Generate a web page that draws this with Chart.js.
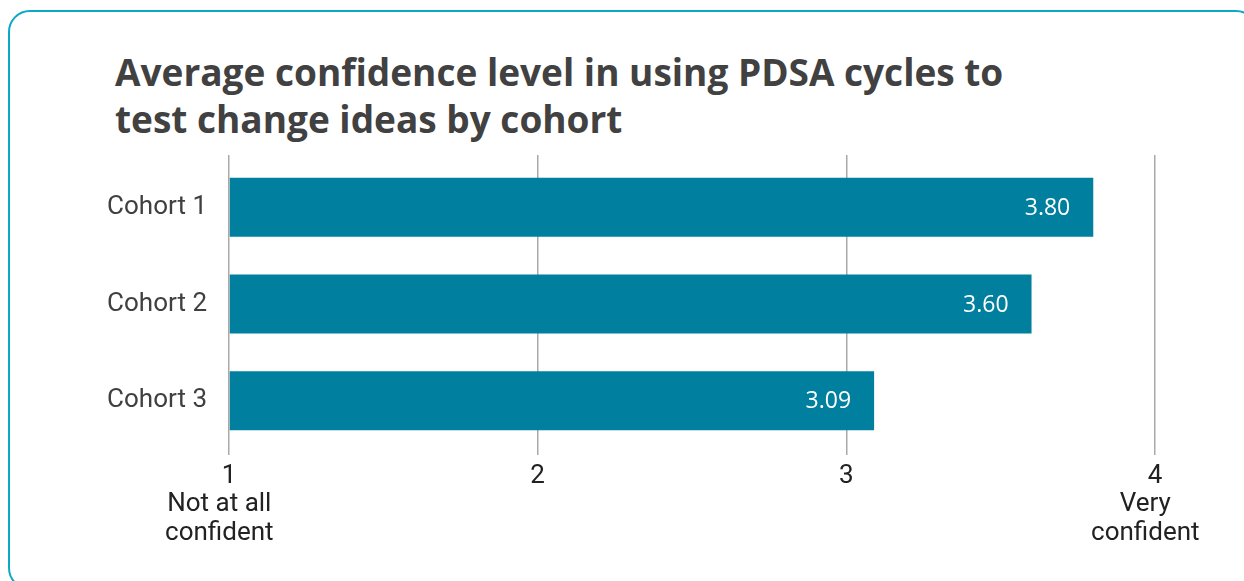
<!DOCTYPE html>
<html>
<head>
<meta charset="utf-8">
<script src="https://cdn.jsdelivr.net/npm/chart.js@4/dist/chart.umd.min.js"></script>
<style>
  html, body { margin: 0; padding: 0; width: 1244px; height: 581px; overflow: hidden; background: #ffffff; }
  #frame {
    position: absolute; left: 8px; top: 10px; width: 1250px; height: 580px;
    border: 2px solid #0aa9c6; border-radius: 22px; box-sizing: border-box;
  }
  #title {
    position: absolute; left: 115px; top: 48px; margin: 0;
    font-family: "Open Sans", sans-serif; font-weight: 700; font-size: 37px;
    line-height: 47px; color: #414141; white-space: nowrap;
  }
  #wrap { position: absolute; left: 0; top: 0; width: 1244px; height: 581px; }
</style>
</head>
<body>
<div id="frame"></div>
<h1 id="title">Average confidence level in using PDSA cycles to<br>test change ideas by cohort</h1>
<div id="wrap"><canvas id="c" width="1244" height="581"></canvas></div>
<script>
const categories = ["Cohort 1", "Cohort 2", "Cohort 3"];
const values = [3.80, 3.60, 3.09];
const xTickLabels = {
  1: ["1", "Not at all   ", "confident   "],
  2: ["2"],
  3: ["3"],
  4: ["4", "Very   ", "confident   "]
};

const BAR_COLOR = "#007f9e";
const GRID_COLOR = "#a9a9a9";

const valueLabels = {
  id: "valueLabels",
  afterDatasetsDraw(chart) {
    const ctx = chart.ctx;
    const meta = chart.getDatasetMeta(0);
    ctx.save();
    ctx.font = '23px "Open Sans"';
    ctx.fillStyle = "#ffffff";
    ctx.textAlign = "right";
    ctx.textBaseline = "middle";
    meta.data.forEach((bar, i) => {
      const v = chart.data.datasets[0].data[i];
      ctx.fillText(v.toFixed(2), bar.x - 23, bar.y + 1);
    });
    ctx.restore();
  }
};

new Chart(document.getElementById("c"), {
  type: "bar",
  data: {
    labels: categories,
    datasets: [{
      data: values,
      backgroundColor: BAR_COLOR,
      borderWidth: 0,
      categoryPercentage: 1.0,
      barPercentage: 0.61,
      base: 1
    }]
  },
  options: {
    indexAxis: "y",
    responsive: false,
    animation: false,
    devicePixelRatio: 1,
    layout: { padding: { top: 155, right: 89, bottom: 0, left: 0 } },
    plugins: { legend: { display: false }, tooltip: { enabled: false }, title: { display: false } },
    scales: {
      x: {
        type: "linear",
        position: "bottom",
        min: 1, max: 4,
        afterFit(scale) { scale.height = 132; },
        border: { display: false },
        grid: { color: GRID_COLOR, lineWidth: 1.5, drawTicks: true, tickLength: 6, tickColor: GRID_COLOR },
        ticks: {
          stepSize: 1,
          autoSkip: false,
          maxRotation: 0,
          padding: 7,
          color: "#222222",
          font: { family: "Roboto", size: 26, lineHeight: 1.1 },
          callback: (v) => xTickLabels[v] || String(v)
        }
      },
      x2: {
        type: "linear",
        position: "top",
        min: 1, max: 4,
        border: { display: false },
        grid: { color: GRID_COLOR, lineWidth: 1.5, drawOnChartArea: false, drawTicks: true, tickLength: 4, tickColor: GRID_COLOR },
        ticks: { stepSize: 1, display: false }
      },
      y: {
        type: "category",
        afterFit(scale) { scale.width = 229; },
        border: { display: false },
        grid: { display: false, drawTicks: false },
        ticks: {
          padding: 22,
          color: "#404040",
          font: { family: "Roboto", size: 26 }
        }
      }
    }
  },
  plugins: [valueLabels]
});
</script>
</body>
</html>
